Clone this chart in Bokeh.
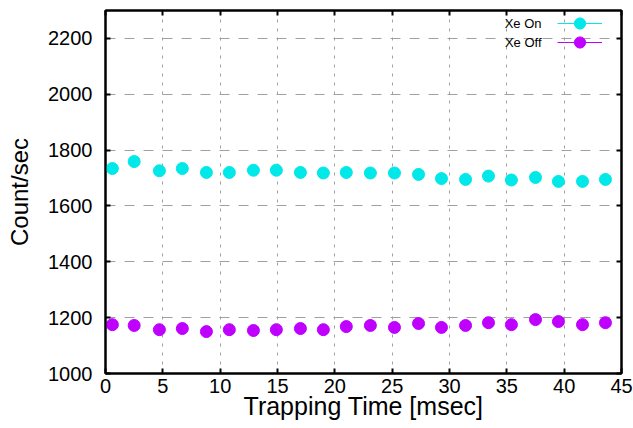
from bokeh.plotting import figure
from bokeh.models import (FixedTicker, LinearAxis, Range1d, Legend, LegendItem,
                          Label, CustomJSTickFormatter)
from bokeh.core.properties import value
from bokeh.embed import file_html
from bokeh.resources import INLINE

# ---- data ----
trap_time = [0.6, 2.5, 4.7, 6.7, 8.8, 10.8, 12.9, 14.9, 17.0, 19.0, 21.0,
             23.1, 25.2, 27.3, 29.3, 31.4, 33.4, 35.4, 37.5, 39.5, 41.6, 43.6]
xe_on = [1734, 1759, 1726, 1734, 1720, 1720, 1728, 1728, 1720, 1718, 1720,
         1718, 1718, 1713, 1698, 1695, 1707, 1693, 1702, 1688, 1688, 1695]
xe_off = [1175, 1172, 1157, 1161, 1150, 1157, 1154, 1157, 1161, 1157, 1168,
          1172, 1165, 1179, 1165, 1172, 1182, 1175, 1193, 1186, 1175, 1182]
x_ticks = [0, 5, 10, 15, 20, 25, 30, 35, 40, 45]
y_ticks = [1000, 1200, 1400, 1600, 1800, 2000, 2200]
series_names = ["Xe On", "Xe Off"]

CYAN = "#00e8e8"
MAGENTA = "#c000ff"
FONT = "Liberation Sans"
NAN = float("nan")

p = figure(frame_width=516, frame_height=363,
           min_border_left=105, min_border_right=12,
           min_border_top=10, min_border_bottom=55,
           x_range=Range1d(0, 45), y_range=Range1d(1000, 2300),
           output_backend="svg", toolbar_location=None,
           background_fill_color="white", border_fill_color="white")

p.outline_line_color = "black"
p.outline_line_width = 2

# axes
for ax, ticks in ((p.xaxis[0], x_ticks), (p.yaxis[0], y_ticks)):
    ax.ticker = FixedTicker(ticks=ticks)
    ax.axis_line_width = 2
    ax.major_tick_in = 5
    ax.major_tick_out = 0
    ax.major_tick_line_width = 2
    ax.minor_tick_in = 0
    ax.minor_tick_out = 0
    ax.major_label_text_font = FONT
    ax.major_label_text_font_size = "20px"
    ax.major_label_text_color = "black"
    ax.axis_label_text_font = FONT
    ax.axis_label_text_font_style = "normal"
    ax.axis_label_text_font_size = "24px"
    ax.axis_label_text_color = "black"

p.xaxis[0].axis_label = "Trapping Time [msec]"
p.xaxis[0].major_label_standoff = 5
p.xaxis[0].axis_label_standoff = -4
p.xaxis[0].axis_label_text_font_size = "25px"
p.yaxis[0].axis_label = "Count/sec"
p.yaxis[0].major_label_standoff = 13
p.yaxis[0].axis_label_standoff = 12

blank = CustomJSTickFormatter(code="return ''")
top = LinearAxis(ticker=FixedTicker(ticks=x_ticks), formatter=blank)
right = LinearAxis(ticker=FixedTicker(ticks=y_ticks), formatter=blank)
for ax in (top, right):
    ax.axis_line_width = 2
    ax.major_tick_in = 5
    ax.major_tick_out = 0
    ax.major_tick_line_width = 2
    ax.minor_tick_in = 0
    ax.minor_tick_out = 0
    ax.major_label_standoff = 0
    ax.major_label_text_font_size = "1px"
p.add_layout(top, "above")
p.add_layout(right, "right")

# grid
p.xgrid.ticker = FixedTicker(ticks=x_ticks)
p.ygrid.ticker = FixedTicker(ticks=y_ticks)
p.xgrid.grid_line_color = "#a0a0a0"
p.xgrid.grid_line_dash = "3 6"
p.xgrid.grid_line_width = 1
p.ygrid.grid_line_color = "#a0a0a0"
p.ygrid.grid_line_dash = "10 9"
p.ygrid.grid_line_width = 1

# data
on_r = p.scatter(trap_time, xe_on, size=12, marker="circle",
                 fill_color=CYAN, line_color=CYAN)
off_r = p.scatter(trap_time, xe_off, size=12, marker="circle",
                  fill_color=MAGENTA, line_color=MAGENTA)

# legend sample renderers (line through marker, gnuplot style); no visible data
on_line = p.line(x=[NAN], y=[NAN], line_color=CYAN, line_width=1)
off_line = p.line(x=[NAN], y=[NAN], line_color=MAGENTA, line_width=1)

# one legend per series so rows can sit closer than the sample height
for i, rends in enumerate([[on_line, on_r], [off_line, off_r]]):
    lg = Legend(items=[LegendItem(label=value(""), renderers=rends)],
                location=(452, 336 - 19 * i), orientation="vertical",
                glyph_width=45, glyph_height=28, spacing=0,
                label_width=0, label_height=0, label_standoff=0,
                label_text_font_size="1px", padding=0, margin=0,
                border_line_color=None, background_fill_alpha=0)
    p.add_layout(lg, "center")

for i, name in enumerate(series_names):
    p.add_layout(Label(x=436, y=350 - 19 * i, x_units="screen", y_units="screen",
                       text=name, text_align="right", text_baseline="middle",
                       text_font=FONT, text_font_size="13px",
                       text_color="black"))

open("out.html", "w").write(file_html(p, INLINE))
